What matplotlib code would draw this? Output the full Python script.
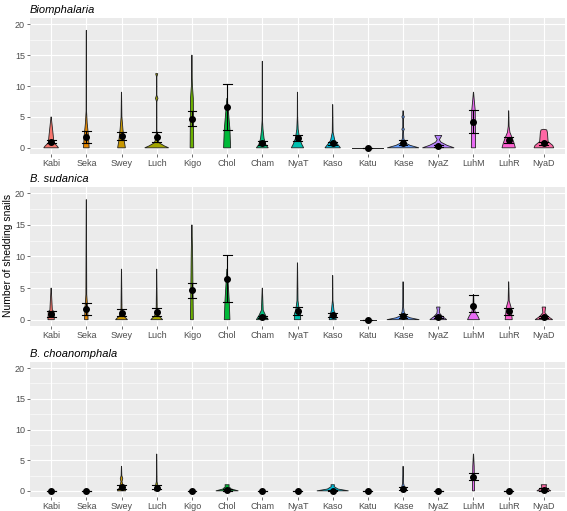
import matplotlib
matplotlib.use("Agg")
import matplotlib.pyplot as plt
import numpy as np

plt.rcParams.update({
    "font.family": ["Liberation Sans", "DejaVu Sans"],
    "font.size": 6,
})

sites = ["Kabi", "Seka", "Swey", "Luch", "Kigo", "Chol", "Cham", "NyaT",
         "Kaso", "Katu", "Kase", "NyaZ", "LuhM", "LuhR", "NyaD"]
# ggplot hue palette, 15 levels
site_colors = ["#F8766D", "#E58700", "#C99800", "#A3A500", "#6BB100", "#00BA38",
               "#00BF7D", "#00C0AF", "#00BCD8", "#00B0F6", "#619CFF", "#B983FF",
               "#E76BF3", "#FD61D1", "#FF67A4"]
titles = ["Biomphalaria", "B. sudanica", "B. choanomphala"]

# mean and error-bar limits per site
biom_mean = [0.97, 1.8, 1.85, 1.7, 4.7, 6.6, 0.75, 1.55, 0.75, 0.0, 0.85, 0.35, 4.25, 1.25, 0.7]
biom_lo   = [0.75, 0.85, 1.2, 0.9, 3.5, 2.9, 0.4, 1.1, 0.5, 0.0, 0.5, 0.2, 2.45, 0.8, 0.5]
biom_hi   = [1.2, 2.65, 2.5, 2.5, 5.95, 10.3, 1.1, 2.1, 1.0, 0.0, 1.2, 0.5, 6.05, 1.7, 0.9]

suda_mean = [0.96, 1.65, 1.1, 1.2, 4.65, 6.5, 0.4, 1.35, 0.7, 0.0, 0.6, 0.4, 2.2, 1.4, 0.4]
suda_lo   = [0.5, 0.8, 0.6, 0.6, 3.45, 2.8, 0.2, 0.7, 0.4, 0.0, 0.3, 0.2, 1.2, 0.8, 0.2]
suda_hi   = [1.35, 2.65, 1.75, 1.8, 5.85, 10.3, 0.6, 2.0, 1.0, 0.0, 0.9, 0.65, 3.85, 1.9, 0.6]

choa_mean = [0.0, 0.0, 0.7, 0.5, 0.0, 0.1, 0.0, 0.0, 0.05, 0.0, 0.3, 0.0, 2.3, 0.0, 0.2]
choa_lo   = [0.0, 0.0, 0.3, 0.25, 0.0, 0.0, 0.0, 0.0, 0.0, 0.0, 0.1, 0.0, 1.75, 0.0, 0.05]
choa_hi   = [0.0, 0.0, 1.0, 0.95, 0.0, 0.25, 0.0, 0.0, 0.15, 0.0, 0.55, 0.0, 2.9, 0.0, 0.4]

# violin outlines: (count, half-width) knots
biom_shape = {
    "Kabi": [(0, 0.21), (0.3, 0.17), (0.8, 0.08), (2, 0.06), (5, 0.003)],
    "Seka": [(0, 0.08), (2, 0.06), (4, 0.025), (6, 0.006), (19, 0.003)],
    "Swey": [(0, 0.11), (1, 0.08), (3, 0.04), (5, 0.012), (9, 0.003)],
    "Luch": [(0, 0.34), (0.3, 0.22), (0.8, 0.07), (1.5, 0.02), (3, 0.006), (7.5, 0.006),
             (8, 0.035), (8.5, 0.006), (11.5, 0.006), (12, 0.03)],
    "Kigo": [(0, 0.05), (8, 0.04), (10, 0.015), (12, 0.005), (15, 0.003)],
    "Chol": [(0, 0.1), (3, 0.08), (5, 0.05), (8, 0.006)],
    "Cham": [(0, 0.17), (0.5, 0.1), (1.5, 0.05), (3, 0.02), (4.5, 0.005), (14, 0.003)],
    "NyaT": [(0, 0.175), (0.6, 0.12), (1.5, 0.06), (3, 0.02), (5, 0.006), (9, 0.003)],
    "Kaso": [(0, 0.22), (0.5, 0.15), (1.2, 0.06), (2.5, 0.012), (7, 0.003)],
    "Katu": [(0, 0.44)],
    "Kase": [(0, 0.45), (0.4, 0.2), (0.8, 0.06), (1.5, 0.02), (2.7, 0.01), (3, 0.035),
             (3.3, 0.01), (4.7, 0.01), (5, 0.035), (5.3, 0.01), (6, 0.004)],
    "NyaZ": [(0, 0.45), (0.4, 0.25), (0.9, 0.08), (1.3, 0.03), (1.6, 0.06), (2, 0.1)],
    "LuhM": [(0, 0.06), (6, 0.05), (7.5, 0.025), (9, 0.003)],
    "LuhR": [(0, 0.19), (0.8, 0.15), (1.6, 0.1), (2.5, 0.035), (3.5, 0.012), (6, 0.003)],
    "NyaD": [(0, 0.28), (0.4, 0.25), (1.0, 0.12), (2.5, 0.1), (2.9, 0.08), (3, 0.0)],
}
suda_shape = {
    "Kabi": [(0, 0.09), (1.3, 0.08), (1.5, 0.035), (5, 0.003)],
    "Seka": [(0, 0.05), (2, 0.035), (4, 0.012), (19, 0.003)],
    "Swey": [(0, 0.17), (0.6, 0.06), (1.5, 0.015), (8, 0.003)],
    "Luch": [(0, 0.17), (0.6, 0.06), (1.5, 0.015), (6, 0.006), (8, 0.003)],
    "Kigo": [(0, 0.04), (10, 0.02), (15, 0.003)],
    "Chol": [(0, 0.08), (3, 0.06), (8, 0.006)],
    "Cham": [(0, 0.17), (0.6, 0.1), (1.5, 0.025), (5, 0.003)],
    "NyaT": [(0, 0.09), (1.0, 0.085), (1.5, 0.05), (3, 0.015), (9, 0.003)],
    "Kaso": [(0, 0.1), (0.6, 0.08), (1.5, 0.035), (3, 0.008), (7, 0.003)],
    "Katu": [(0, 0.23)],
    "Kase": [(0, 0.46), (0.3, 0.2), (0.6, 0.08), (1.2, 0.03), (2, 0.012), (6, 0.004)],
    "NyaZ": [(0, 0.24), (0.5, 0.12), (1.0, 0.04), (1.5, 0.03), (2, 0.05)],
    "LuhM": [(0, 0.17), (0.6, 0.12), (1.2, 0.05), (2, 0.015), (4, 0.003)],
    "LuhR": [(0, 0.1), (2, 0.065), (3, 0.015), (6, 0.003)],
    "NyaD": [(0, 0.25), (0.5, 0.12), (1.1, 0.03), (1.6, 0.04), (2, 0.05)],
}
choa_shape = {
    "Swey": [(0, 0.12), (0.5, 0.06), (1.5, 0.015), (2, 0.035), (2.5, 0.01), (4, 0.003)],
    "Luch": [(0, 0.06), (0.8, 0.035), (1.5, 0.01), (6, 0.003)],
    "Chol": [(0, 0.32), (0.3, 0.12), (0.7, 0.05), (1, 0.06)],
    "Kaso": [(0, 0.45), (0.3, 0.15), (0.7, 0.04), (1, 0.05)],
    "Kase": [(0, 0.05), (0.7, 0.035), (1.2, 0.015), (4, 0.004)],
    "LuhM": [(0, 0.03), (4, 0.02), (6, 0.003)],
    "NyaD": [(0, 0.2), (0.4, 0.08), (0.8, 0.06), (1, 0.08)],
}

panels = [
    (titles[0], biom_shape, biom_mean, biom_lo, biom_hi),
    (titles[1], suda_shape, suda_mean, suda_lo, suda_hi),
    (titles[2], choa_shape, choa_mean, choa_lo, choa_hi),
]

W, H = 567, 511
boxes = [(18, 154), (187, 326), (362, 497)]   # panel top/bottom in pixels
left, right = 30, 565

fig = plt.figure(figsize=(W / 100, H / 100), dpi=100)
pos = np.arange(1, len(sites) + 1)

for (title, shapes, mean, lo, hi), (top, bot) in zip(panels, boxes):
    ax = fig.add_axes([left / W, 1 - bot / H, (right - left) / W, (bot - top) / H])
    ax.set_facecolor("#EBEBEB")
    for s in ax.spines.values():
        s.set_visible(False)
    ax.set_xlim(0.4, 15.6)
    ax.set_ylim(-1, 21)
    ax.set_yticks([0, 5, 10, 15, 20])
    ax.set_yticks([2.5, 7.5, 12.5, 17.5], minor=True)
    ax.set_xticks(pos)
    ax.set_xticklabels(sites)
    ax.grid(which="major", color="white", lw=0.8)
    ax.grid(which="minor", axis="y", color="white", lw=0.4)
    ax.set_axisbelow(True)
    ax.tick_params(which="major", length=2.2, width=0.5, color="#333333",
                   labelcolor="#4D4D4D", labelsize=6.5, pad=1.5)
    ax.tick_params(which="minor", length=0)

    for i, site in enumerate(sites):
        x = pos[i]
        knots = shapes.get(site, [])
        if len(knots) == 1:
            y0, w0 = knots[0]
            ax.plot([x - w0, x + w0], [y0, y0], color="#222222", lw=0.7, zorder=2)
        elif len(knots) > 1:
            ky = np.array([k[0] for k in knots])
            kw = np.array([k[1] for k in knots])
            px = np.concatenate([x - kw, (x + kw)[::-1]])
            py = np.concatenate([ky, ky[::-1]])
            ax.fill(px, py, facecolor=site_colors[i], edgecolor="#222222", lw=0.6, zorder=2)
        # error bar
        ax.plot([x, x], [lo[i], hi[i]], color="black", lw=0.8, zorder=3)
        for yy in (lo[i], hi[i]):
            ax.plot([x - 0.125, x + 0.125], [yy, yy], color="black", lw=0.8, zorder=3)
        ax.plot(x, mean[i], "o", color="black", ms=4, zorder=4)

    fig.text(left / W, 1 - (top - 3) / H, title, style="italic", fontsize=8,
             ha="left", va="bottom")

fig.text(8 / W, 1 - 255 / H, "Number of shedding snails", rotation=90,
         ha="center", va="center", fontsize=7.5)

fig.savefig("out.png", dpi=100)
